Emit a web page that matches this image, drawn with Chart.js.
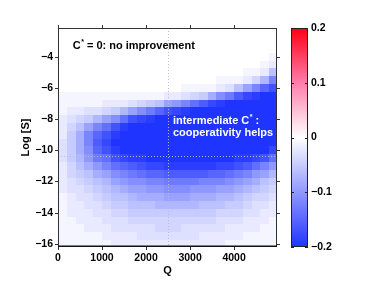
<!DOCTYPE html>
<html>
<head>
<meta charset="utf-8">
<script src="https://cdn.jsdelivr.net/npm/chart.js@4.4.1/dist/chart.umd.min.js"></script>
<style>
  html, body { margin: 0; padding: 0; background: #fff; }
</style>
</head>
<body>
<canvas id="heatChart" width="374" height="282"></canvas>
<script>
// cell centres (Q bins are 200 wide, Log[S] bins are 0.5 high)
const qCenters = [100, 300, 500, 700, 900, 1100, 1300, 1500, 1700, 1900, 2100, 2300, 2500,
                  2700, 2900, 3100, 3300, 3500, 3700, 3900, 4100, 4300, 4500, 4700, 4900];
const logSCenters = [-2.5, -3, -3.5, -4, -4.5, -5, -5.5, -6, -6.5, -7, -7.5, -8, -8.5, -9,
                     -9.5, -10, -10.5, -11, -11.5, -12, -12.5, -13, -13.5, -14, -14.5, -15, -15.5, -16];

// one list per Q column, values from top row (Log[S] = -2.5) down to -16
const cellValues = [
  [0,0,0,0,0,0,0,0,-.01,-.01,-.01,-.02,-.02,-.02,-.03,-.03,-.03,-.02,-.02,-.02,-.02,-.01,-.01,-.01,-.01,-.01,-.01,-.01],
  [0,0,0,0,0,0,0,0,-.01,-.01,-.02,-.03,-.04,-.05,-.05,-.05,-.05,-.04,-.04,-.03,-.03,-.02,-.02,-.02,-.01,-.01,-.01,-.01],
  [0,0,0,0,0,0,0,0,-.01,-.01,-.02,-.04,-.06,-.08,-.08,-.08,-.07,-.06,-.05,-.04,-.03,-.03,-.02,-.02,-.02,-.01,-.01,-.01],
  [0,0,0,0,0,0,0,0,-.01,-.01,-.03,-.05,-.09,-.12,-.12,-.11,-.10,-.08,-.06,-.05,-.04,-.03,-.03,-.02,-.02,-.02,-.01,-.01],
  [0,0,0,0,0,0,0,0,-.01,-.01,-.03,-.07,-.12,-.15,-.16,-.15,-.13,-.10,-.08,-.06,-.05,-.04,-.03,-.03,-.02,-.02,-.01,-.01],
  [0,0,0,0,0,0,0,0,-.01,-.02,-.04,-.09,-.14,-.17,-.18,-.17,-.14,-.12,-.09,-.07,-.06,-.05,-.04,-.03,-.03,-.02,-.02,-.01],
  [0,0,0,0,0,0,0,0,-.01,-.02,-.05,-.11,-.17,-.19,-.20,-.19,-.17,-.14,-.11,-.09,-.07,-.06,-.05,-.04,-.03,-.03,-.02,-.02],
  [0,0,0,0,0,0,0,0,-.01,-.02,-.07,-.14,-.19,-.20,-.20,-.20,-.18,-.15,-.12,-.10,-.08,-.06,-.05,-.04,-.03,-.03,-.02,-.02],
  [0,0,0,0,0,0,0,0,-.01,-.03,-.09,-.17,-.20,-.20,-.20,-.20,-.19,-.16,-.13,-.11,-.09,-.07,-.06,-.05,-.04,-.03,-.02,-.02],
  [0,0,0,0,0,0,0,0,-.01,-.04,-.11,-.18,-.20,-.20,-.20,-.20,-.19,-.17,-.14,-.11,-.09,-.08,-.06,-.05,-.04,-.03,-.03,-.02],
  [0,0,0,0,0,0,0,0,-.01,-.05,-.13,-.19,-.20,-.20,-.20,-.20,-.20,-.18,-.15,-.12,-.10,-.08,-.06,-.05,-.04,-.03,-.03,-.02],
  [0,0,0,0,0,0,0,0,-.01,-.06,-.15,-.20,-.20,-.20,-.20,-.20,-.20,-.18,-.15,-.12,-.10,-.08,-.07,-.05,-.04,-.04,-.03,-.02],
  [0,0,0,0,0,0,0,0,-.02,-.09,-.17,-.20,-.20,-.20,-.20,-.20,-.20,-.19,-.16,-.13,-.11,-.09,-.07,-.05,-.04,-.04,-.03,-.02],
  [0,0,0,0,0,0,0,0,-.02,-.10,-.18,-.20,-.20,-.20,-.20,-.20,-.20,-.19,-.16,-.13,-.11,-.09,-.07,-.05,-.04,-.04,-.03,-.02],
  [0,0,0,0,0,0,0,-.01,-.03,-.12,-.19,-.20,-.20,-.20,-.20,-.20,-.20,-.19,-.16,-.13,-.11,-.09,-.07,-.05,-.04,-.03,-.03,-.02],
  [0,0,0,0,0,0,0,-.01,-.04,-.14,-.20,-.20,-.20,-.20,-.20,-.20,-.20,-.19,-.16,-.13,-.10,-.08,-.07,-.05,-.04,-.03,-.03,-.02],
  [0,0,0,0,0,0,0,-.01,-.05,-.16,-.20,-.20,-.20,-.20,-.20,-.20,-.20,-.19,-.16,-.12,-.10,-.08,-.06,-.05,-.04,-.03,-.02,-.02],
  [0,0,0,0,0,0,0,-.01,-.08,-.18,-.20,-.20,-.20,-.20,-.20,-.20,-.20,-.19,-.15,-.12,-.10,-.08,-.06,-.05,-.04,-.03,-.02,-.02],
  [0,0,0,0,0,0,-.01,-.02,-.11,-.19,-.20,-.20,-.20,-.20,-.20,-.20,-.20,-.18,-.15,-.12,-.09,-.07,-.06,-.04,-.03,-.03,-.02,-.02],
  [0,0,0,0,0,0,-.01,-.03,-.13,-.20,-.20,-.20,-.20,-.20,-.20,-.20,-.20,-.18,-.14,-.11,-.09,-.07,-.05,-.04,-.03,-.02,-.02,-.01],
  [0,0,0,0,0,0,-.01,-.06,-.16,-.20,-.20,-.20,-.20,-.20,-.20,-.20,-.19,-.17,-.13,-.10,-.08,-.06,-.05,-.04,-.03,-.02,-.02,-.01],
  [0,0,0,0,0,-.01,-.02,-.09,-.18,-.20,-.20,-.20,-.20,-.20,-.20,-.20,-.19,-.16,-.12,-.09,-.07,-.05,-.04,-.03,-.02,-.02,-.01,-.01],
  [0,0,0,0,0,-.01,-.04,-.12,-.19,-.20,-.20,-.20,-.20,-.20,-.20,-.20,-.18,-.14,-.10,-.08,-.06,-.04,-.03,-.03,-.02,-.02,-.01,-.01],
  [0,0,0,0,-.01,-.02,-.07,-.15,-.20,-.20,-.20,-.20,-.20,-.20,-.20,-.20,-.17,-.12,-.09,-.06,-.05,-.04,-.03,-.02,-.02,-.01,-.01,-.01],
  [0,0,0,-.01,-.02,-.06,-.12,-.17,-.20,-.20,-.20,-.20,-.20,-.20,-.20,-.18,-.14,-.10,-.07,-.05,-.04,-.03,-.02,-.02,-.01,-.01,-.01,-.01]
];

const xTicks = [0, 1000, 2000, 3000, 4000];
const yTicks = [-16, -14, -12, -10, -8, -6, -4];
const colorTicks = [-0.2, -0.1, 0, 0.1, 0.2];

// dotted reference lines
const refQ = 2500;
const refLogS = -10.35;

// colour map: blue - white - red
const cmapStops = [-0.2, -0.1, 0, 0.1, 0.2];
const cmapColors = [[32, 52, 255], [143, 152, 255], [255, 255, 255], [255, 125, 170], [255, 0, 18]];

function colorFor(v) {
  if (v <= cmapStops[0]) return 'rgb(' + cmapColors[0].join(',') + ')';
  for (let k = 1; k < cmapStops.length; k++) {
    if (v <= cmapStops[k]) {
      const t = (v - cmapStops[k - 1]) / (cmapStops[k] - cmapStops[k - 1]);
      const a = cmapColors[k - 1], b = cmapColors[k];
      return 'rgb(' + a.map((c, i) => Math.round(c + (b[i] - c) * t)).join(',') + ')';
    }
  }
  return 'rgb(' + cmapColors[cmapColors.length - 1].join(',') + ')';
}

const fontFamily = '"Liberation Sans", Arial, Helvetica, sans-serif';
const tickFont = { family: fontFamily, size: 10.5, weight: 'bold' };
const labelFont = { family: fontFamily, size: 11, weight: 'bold' };
const fmt = v => String(v).replace('-', '\u2212');
const noGrid = { display: false, drawTicks: false, tickLength: 0 };

const cells = qCenters.flatMap((q, i) => logSCenters.map((s, j) => ({ x: q, y: s, v: cellValues[i][j] })));

// fixed axis boxes so the plot area lands where the original one is
function fixWidth(w) {
  return s => { s.width = w; s.paddingTop = 0; s.paddingBottom = 0; };
}
function fixHeight(h) {
  return s => { s.height = h; s.paddingLeft = 0; s.paddingRight = 0; };
}

// text with a superscript star after the first part
function drawNote(ctx, x, y, color, before, sup, after) {
  ctx.fillStyle = color;
  ctx.textBaseline = 'alphabetic';
  ctx.textAlign = 'left';
  ctx.font = 'bold 11px ' + fontFamily;
  ctx.fillText(before, x, y);
  let w = ctx.measureText(before).width;
  if (sup) {
    ctx.font = 'bold 7px ' + fontFamily;
    ctx.fillText(sup, x + w + 0.5, y - 5);
    w += ctx.measureText(sup).width + 0.5;
    ctx.font = 'bold 11px ' + fontFamily;
    ctx.fillText(after, x + w, y);
  }
}

const heatPlugin = {
  id: 'heat',
  beforeDatasetsDraw(chart) {
    const { ctx, chartArea: a, scales: { x, y } } = chart;
    const hw = (qCenters[1] - qCenters[0]) / 2;
    const hh = Math.abs(logSCenters[1] - logSCenters[0]) / 2;
    ctx.save();
    ctx.beginPath();
    ctx.rect(a.left, a.top, a.right - a.left, a.bottom - a.top);
    ctx.clip();
    chart.data.datasets[0].data.forEach(c => {
      const x0 = Math.round(x.getPixelForValue(c.x - hw));
      const x1 = Math.round(x.getPixelForValue(c.x + hw));
      const y0 = Math.round(y.getPixelForValue(c.y + hh));
      const y1 = Math.round(y.getPixelForValue(c.y - hh));
      ctx.fillStyle = colorFor(c.v);
      ctx.fillRect(x0, y0, x1 - x0, y1 - y0);
    });

    // dotted reference lines
    ctx.strokeStyle = 'rgba(185,185,210,0.95)';
    ctx.lineWidth = 1;
    ctx.setLineDash([1, 2]);
    const rx = Math.round(x.getPixelForValue(refQ)) + 0.5;
    const ry = Math.round(y.getPixelForValue(refLogS)) + 0.5;
    ctx.beginPath();
    ctx.moveTo(rx, a.top); ctx.lineTo(rx, a.bottom);
    ctx.moveTo(a.left, ry); ctx.lineTo(a.right, ry);
    ctx.stroke();
    ctx.setLineDash([]);

    // annotations
    drawNote(ctx, x.getPixelForValue(335), y.getPixelForValue(-3.5), '#000', 'C', '*', ' = 0: no improvement');
    drawNote(ctx, x.getPixelForValue(2610), y.getPixelForValue(-8.34), '#fff', 'intermediate C', '*', ' :');
    drawNote(ctx, x.getPixelForValue(2610), y.getPixelForValue(-9.06), '#fff', 'cooperativity helps');
    ctx.restore();
  },
  afterDatasetsDraw(chart) {
    const { ctx, chartArea: a, scales: { x, y, cbar } } = chart;
    ctx.save();
    // frame with small outward ticks
    ctx.strokeStyle = '#333';
    ctx.lineWidth = 1;
    ctx.strokeRect(a.left + 0.5, a.top + 0.5, a.right - a.left - 1, a.bottom - a.top - 1);
    ctx.beginPath();
    xTicks.forEach(v => {
      const px = Math.round(x.getPixelForValue(v)) + 0.5;
      ctx.moveTo(px, a.bottom); ctx.lineTo(px, a.bottom + 3);
      ctx.moveTo(px, a.top); ctx.lineTo(px, a.top - 3);
    });
    yTicks.forEach(v => {
      const py = Math.round(y.getPixelForValue(v)) + 0.5;
      ctx.moveTo(a.left, py); ctx.lineTo(a.left - 3, py);
      ctx.moveTo(a.right, py); ctx.lineTo(a.right + 3, py);
    });
    ctx.stroke();
    ctx.strokeStyle = '#111';
    ctx.lineWidth = 1.5;
    ctx.beginPath();
    ctx.moveTo(a.left, a.bottom - 0.75); ctx.lineTo(a.right, a.bottom - 0.75);
    ctx.stroke();

    // colour bar
    const xL = a.right + 14, xR = a.right + 31;
    const top = cbar.getPixelForValue(cmapStops[cmapStops.length - 1]);
    const bot = cbar.getPixelForValue(cmapStops[0]);
    const grad = ctx.createLinearGradient(0, bot, 0, top);
    cmapStops.forEach((s, k) => {
      grad.addColorStop((cbar.getPixelForValue(s) - bot) / (top - bot), 'rgb(' + cmapColors[k].join(',') + ')');
    });
    ctx.fillStyle = grad;
    ctx.fillRect(xL, top, xR - xL, bot - top);
    ctx.strokeStyle = '#222';
    ctx.lineWidth = 1;
    ctx.strokeRect(xL + 0.5, top + 0.5, xR - xL - 1, bot - top - 1);
    ctx.beginPath();
    colorTicks.forEach(v => {
      const py = Math.round(cbar.getPixelForValue(v)) + 0.5;
      ctx.moveTo(xL, py); ctx.lineTo(xL + 3, py);
      ctx.moveTo(xR, py); ctx.lineTo(xR - 3, py);
    });
    ctx.stroke();
    ctx.restore();
  }
};

new Chart(document.getElementById('heatChart'), {
  type: 'scatter',
  data: { datasets: [{ data: cells, pointRadius: 0, pointHoverRadius: 0 }] },
  options: {
    responsive: false,
    animation: false,
    events: [],
    layout: { padding: { top: 28, left: 0, right: 0, bottom: 0 } },
    plugins: { legend: { display: false }, tooltip: { enabled: false } },
    scales: {
      x: {
        type: 'linear', min: 0, max: 4975,
        afterBuildTicks: s => { s.ticks = xTicks.map(v => ({ value: v })); },
        afterFit: fixHeight(35),
        grid: noGrid, border: { display: false },
        ticks: { font: tickFont, color: '#000', padding: 5, maxRotation: 0, autoSkip: false, callback: fmt },
        title: { display: true, text: 'Q', font: labelFont, color: '#000', padding: { top: 4, bottom: 4 } }
      },
      y: {
        type: 'linear', min: -16.2, max: -2.16,
        afterBuildTicks: s => { s.ticks = yTicks.map(v => ({ value: v })); },
        afterFit: fixWidth(58),
        grid: noGrid, border: { display: false },
        ticks: { font: tickFont, color: '#000', padding: 5, autoSkip: false, callback: fmt },
        title: { display: true, text: 'Log [S]', font: labelFont, color: '#000', padding: { top: 19, bottom: 0 } }
      },
      cbar: {
        type: 'linear', axis: 'y', position: 'right', min: -0.2, max: 0.2,
        afterBuildTicks: s => { s.ticks = colorTicks.map(v => ({ value: v })); },
        afterFit: fixWidth(97),
        grid: noGrid, border: { display: false },
        ticks: { font: tickFont, color: '#000', padding: 34, autoSkip: false, callback: fmt }
      }
    }
  },
  plugins: [heatPlugin]
});
</script>
</body>
</html>
